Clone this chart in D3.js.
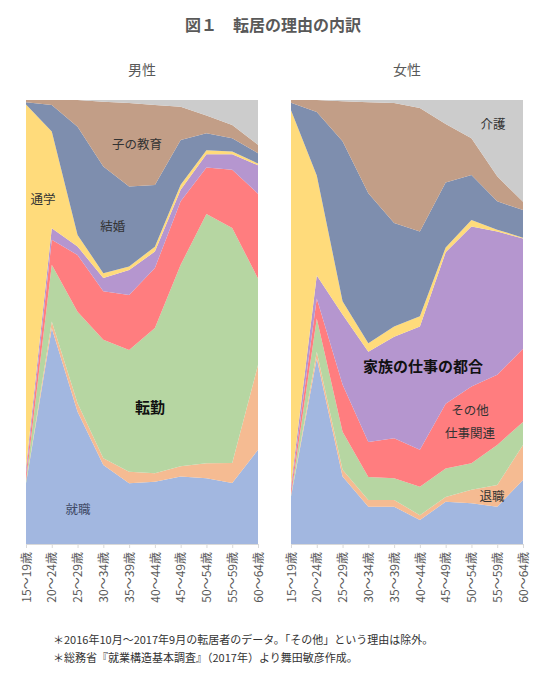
<!DOCTYPE html>
<html>
<head>
<meta charset="utf-8">
<script src="https://cdn.jsdelivr.net/npm/d3@7"></script>
<style>
  body { margin: 0; background: #fff; }
  svg { display: block; font-family: "Noto Sans CJK JP", "Noto Sans", sans-serif; }
</style>
</head>
<body>
<div id="chart"></div>
<script>
// Age groups on the x axis
var ages = ["15～19歳", "20～24歳", "25～29歳", "30～34歳", "35～39歳",
            "40～44歳", "45～49歳", "50～54歳", "55～59歳", "60～64歳"];

// Reasons, bottom to top of the stack
var reasons = ["就職", "退職", "転勤", "その他仕事関連", "家族の仕事の都合",
               "通学", "結婚", "子の教育", "介護"];
var colors = ["#A2B7E0", "#F5BB92", "#B6D6A2", "#FF7D7F", "#B596CF",
              "#FFDB7B", "#7E8EAE", "#C29E87", "#CCCCCC"];

// Male shares (%) per reason
var maleJob        = [13.7, 48.6, 29.8, 17.8, 13.7, 14.0, 15.2, 14.8, 13.7, 21.2];
var maleRetire     = [0.0, 1.5, 1.9, 1.5, 2.6, 1.9, 2.3, 3.4, 4.5, 19.1];
var maleTransfer   = [0.5, 12.8, 20.6, 26.7, 27.4, 32.7, 45.4, 56.1, 52.9, 19.5];
var maleWork       = [1.5, 5.6, 12.8, 10.9, 12.4, 13.5, 14.3, 10.5, 13.1, 19.1];
var maleFamilyWork = [1.5, 2.6, 1.9, 3.0, 5.6, 3.7, 2.6, 3.0, 3.5, 6.4];
var maleSchool     = [81.8, 21.8, 2.6, 1.1, 0.8, 1.1, 1.1, 0.9, 0.6, 0.4];
var maleMarriage   = [0.5, 6.0, 24.4, 24.0, 18.0, 13.9, 10.1, 3.8, 3.0, 2.3];
var maleEducation  = [0.5, 1.1, 6.0, 14.6, 18.8, 18.0, 7.5, 4.0, 3.0, 1.9];
var maleCare       = [0.0, 0.0, 0.0, 0.4, 0.7, 1.1, 1.5, 3.5, 5.6, 10.1];

// Female shares (%) per reason
var femaleJob        = [10.7, 41.8, 15.2, 8.4, 8.4, 5.4, 9.5, 9.2, 8.4, 14.4];
var femaleRetire     = [0.0, 1.5, 1.5, 1.5, 1.5, 1.1, 1.1, 3.0, 4.9, 7.9];
var femaleTransfer   = [0.3, 7.5, 8.6, 5.2, 4.9, 6.4, 6.4, 6.0, 9.0, 5.2];
var femaleWork       = [1.2, 4.5, 10.6, 7.9, 9.0, 8.3, 14.6, 17.3, 15.8, 16.5];
var femaleFamilyWork = [1.0, 5.2, 15.8, 20.3, 22.9, 27.8, 34.1, 36.0, 32.3, 24.8];
var femaleSchool     = [84.5, 22.5, 3.0, 1.9, 2.3, 2.3, 1.1, 1.5, 0.4, 0.2];
var femaleMarriage   = [1.7, 14.3, 36.0, 33.8, 23.3, 19.1, 14.6, 10.1, 6.4, 6.2];
var femaleEducation  = [0.6, 2.7, 9.0, 20.5, 27.0, 27.8, 13.2, 8.3, 5.6, 1.9];
var femaleCare       = [0.0, 0.0, 0.3, 0.5, 0.7, 1.8, 5.4, 8.6, 17.2, 22.9];

var maleSeries = [maleJob, maleRetire, maleTransfer, maleWork, maleFamilyWork,
                  maleSchool, maleMarriage, maleEducation, maleCare];
var femaleSeries = [femaleJob, femaleRetire, femaleTransfer, femaleWork, femaleFamilyWork,
                    femaleSchool, femaleMarriage, femaleEducation, femaleCare];

// In-chart labels: [text, age index, share from bottom, size, bold]
var maleLabels = [
  ["子の教育", 4.31, 0.903, 12.5, false],
  ["通学", 0.66, 0.779, 12.5, false],
  ["結婚", 3.37, 0.718, 12.5, false],
  ["転勤", 4.81, 0.309, 15, true],
  ["就職", 2.02, 0.079, 12.5, false]
];
var femaleLabels = [
  ["介護", 7.84, 0.948, 12.5, false],
  ["家族の仕事の都合", 5.12, 0.403, 15, true],
  ["その他", 6.94, 0.302, 12.5, false],
  ["仕事関連", 6.94, 0.252, 12.5, false],
  ["退職", 7.80, 0.110, 12.5, false]
];

var svgWidth = 550;
var svgHeight = 682;
var plotTop = 100;
var plotBottom = 544;

var svg = d3.select("#chart")
  .append("svg")
  .attr("width", svgWidth)
  .attr("height", svgHeight);

svg.append("rect").attr("width", svgWidth).attr("height", svgHeight).attr("fill", "#fff");

// Title
svg.append("text")
  .attr("x", 273)
  .attr("y", 31)
  .attr("text-anchor", "middle")
  .style("font-size", "16px")
  .style("font-weight", "bold")
  .style("fill", "#595959")
  .text("図１　転居の理由の内訳");

var yScale = d3.scaleLinear()
  .domain([0, 1])
  .range([plotBottom, plotTop]);

function drawPanel(series, left, right, title, titleX, labels) {
  var rows = ages.map(function(a, i) {
    var row = { age: i };
    reasons.forEach(function(r, k) { row[r] = series[k][i]; });
    return row;
  });

  var stack = d3.stack()
    .keys(reasons)
    .offset(d3.stackOffsetExpand);
  var layers = stack(rows);

  var xScale = d3.scaleLinear()
    .domain([0, ages.length - 1])
    .range([left, right]);

  var area = d3.area()
    .x(function(d) { return xScale(d.data.age); })
    .y0(function(d) { return yScale(d[0]); })
    .y1(function(d) { return yScale(d[1]); });

  var g = svg.append("g");

  g.selectAll(".layer")
    .data(layers)
    .enter()
    .append("path")
    .attr("class", "layer")
    .attr("d", area)
    .attr("fill", function(d, i) { return colors[i]; });

  // Bottom axis with rotated age labels
  var axis = d3.axisBottom(xScale)
    .tickValues(d3.range(ages.length))
    .tickFormat(function(i) { return ages[i]; })
    .tickSize(4)
    .tickSizeOuter(0);

  var ax = g.append("g")
    .attr("transform", "translate(0," + plotBottom + ")")
    .call(axis);
  ax.select(".domain").attr("stroke", "#d9d9d9");
  ax.selectAll(".tick line").attr("stroke", "#d9d9d9");
  ax.selectAll(".tick text")
    .attr("transform", "rotate(-90)")
    .attr("x", -8)
    .attr("y", 0)
    .attr("dy", "0.35em")
    .style("text-anchor", "end")
    .style("font-size", "12px")
    .style("font-family", "'Noto Sans CJK JP', sans-serif")
    .style("fill", "#595959");

  // Panel title
  svg.append("text")
    .attr("x", titleX)
    .attr("y", 75)
    .attr("text-anchor", "middle")
    .style("font-size", "14px")
    .style("fill", "#595959")
    .text(title);

  g.selectAll(".lbl")
    .data(labels)
    .enter()
    .append("text")
    .attr("class", "lbl")
    .attr("x", function(d) { return xScale(d[1]); })
    .attr("y", function(d) { return yScale(d[2]); })
    .attr("text-anchor", "middle")
    .attr("dominant-baseline", "central")
    .style("font-size", function(d) { return d[3] + "px"; })
    .style("font-weight", function(d) { return d[4] ? "bold" : "normal"; })
    .style("fill", function(d) { return d[0] === "就職" ? "#3f4a66" : (d[4] ? "#111" : "#333"); })
    .text(function(d) { return d[0]; });
}

drawPanel(maleSeries, 26, 258, "男性", 142, maleLabels);
drawPanel(femaleSeries, 291, 523, "女性", 407, femaleLabels);

// Footnotes
var notes = [
  "＊2016年10月～2017年9月の転居者のデータ。「その他」という理由は除外。",
  "＊総務省『就業構造基本調査』（2017年）より舞田敏彦作成。"
];
svg.selectAll(".note")
  .data(notes)
  .enter()
  .append("text")
  .attr("class", "note")
  .attr("x", 53)
  .attr("y", function(d, i) { return 644 + i * 18; })
  .style("font-size", "11px")
  .style("fill", "#333")
  .text(function(d) { return d; });
</script>
</body>
</html>
